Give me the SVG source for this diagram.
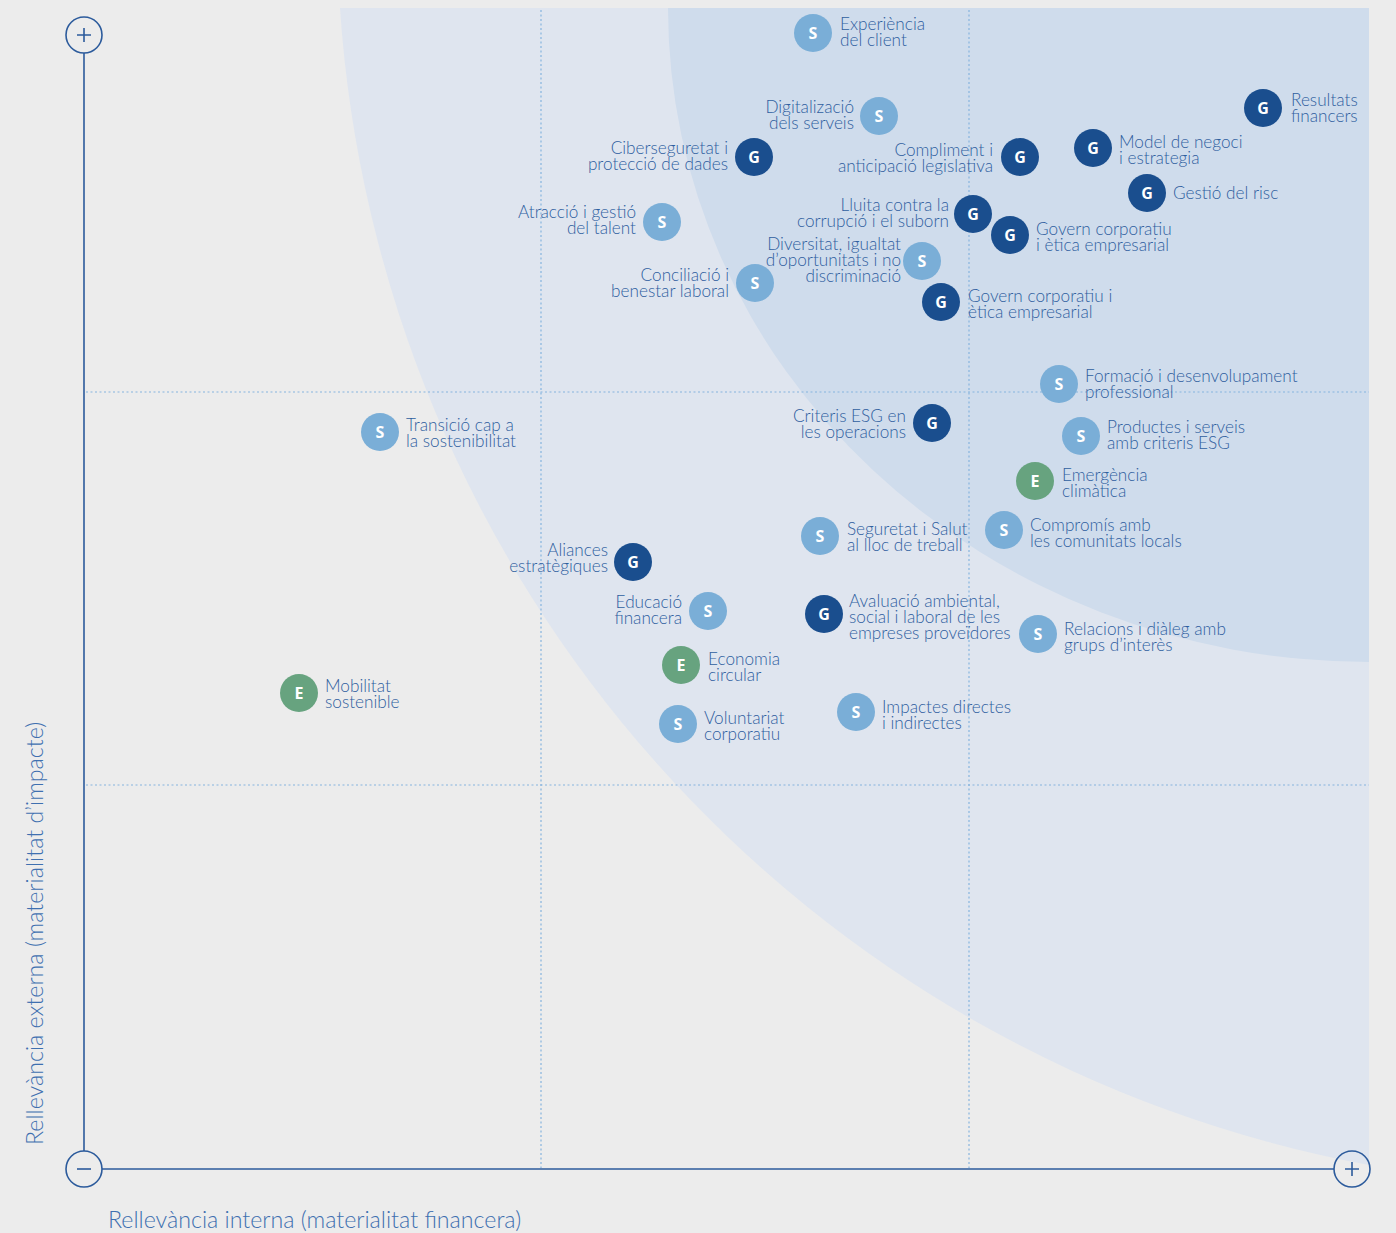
<svg xmlns="http://www.w3.org/2000/svg" width="1396" height="1233" viewBox="0 0 1396 1233">
<style>
.lbl{font-family:Lato,"Open Sans","Liberation Sans",sans-serif;font-size:17.2px;font-weight:300;fill:#2f5f9f;}
.ltr{font-family:"Open Sans","Liberation Sans",sans-serif;font-size:16px;font-weight:700;fill:#ffffff;text-anchor:middle;}
.G{fill:#1a4e8e;}
.S{fill:#7aaed7;}
.E{fill:#67a37f;}
.grid{stroke:#86b4de;stroke-width:1.2;stroke-dasharray:2 2.5;fill:none;}
.axis{stroke:#2c5b9c;stroke-width:1.6;fill:none;}
.axl{font-family:Lato,"Open Sans","Liberation Sans",sans-serif;font-size:23.2px;font-weight:300;fill:#3f70b0;}
.e{text-anchor:end;}
</style>
<rect width="1396" height="1233" fill="#ececec"/>
<g id="zones">
<path d="M340,8 A1262,1262 0 0 0 1369,1165 L1369,8 Z" fill="#dfe5ef"/>
<path d="M668,8 A701,654 0 0 0 1369,662 L1369,8 Z" fill="#cfdcec"/>
</g>
<g id="grid">
<line class="grid" x1="541" y1="10" x2="541" y2="1168"/>
<line class="grid" x1="969" y1="10" x2="969" y2="1168"/>
<line class="grid" x1="86" y1="392" x2="1369" y2="392"/>
<line class="grid" x1="86" y1="785" x2="1369" y2="785"/>
</g>
<g id="axes">
<line class="axis" x1="84" y1="53" x2="84" y2="1151"/>
<line class="axis" x1="102" y1="1169" x2="1334" y2="1169"/>
<circle class="axis" cx="84" cy="35" r="18"/>
<path class="axis" d="M77,35 H91 M84,28 V42"/>
<circle class="axis" cx="84" cy="1169" r="18"/>
<path class="axis" d="M77,1169 H91"/>
<circle class="axis" cx="1352" cy="1169" r="18"/>
<path class="axis" d="M1345,1169 H1359 M1352,1162 V1176"/>
<text class="axl" x="108" y="1228">Rellevància interna (materialitat financera)</text>
<text class="axl" transform="translate(43,1145) rotate(-90)">Rellevància externa (materialitat d’impacte)</text>
</g>
<g id="connectors"></g>
<g id="n-exp"><circle class="S" cx="813" cy="33" r="19"/><text class="ltr" x="813" y="38.5">S</text><text class="lbl" x="840" y="30">Experiència<tspan x="840" y="46">del client</tspan></text></g>
<g id="n-dig"><circle class="S" cx="879" cy="116" r="19"/><text class="ltr" x="879" y="121.5">S</text><text class="lbl e" x="854" y="113">Digitalizació<tspan x="854" y="129">dels serveis</tspan></text></g>
<g id="n-cib"><circle class="G" cx="754" cy="157" r="19"/><text class="ltr" x="754" y="162.5">G</text><text class="lbl e" x="728" y="154">Ciberseguretat i<tspan x="728" y="170">protecció de dades</tspan></text></g>
<g id="n-comp"><circle class="G" cx="1020" cy="157" r="19"/><text class="ltr" x="1020" y="162.5">G</text><text class="lbl e" x="993" y="156">Compliment i<tspan x="993" y="172">anticipació legislativa</tspan></text></g>
<g id="n-res"><circle class="G" cx="1263" cy="108" r="19"/><text class="ltr" x="1263" y="113.5">G</text><text class="lbl" x="1291" y="106">Resultats<tspan x="1291" y="122">financers</tspan></text></g>
<g id="n-model"><circle class="G" cx="1093" cy="148" r="19"/><text class="ltr" x="1093" y="153.5">G</text><text class="lbl" x="1119" y="148">Model de negoci<tspan x="1119" y="164">i estrategia</tspan></text></g>
<g id="n-risc"><circle class="G" cx="1147" cy="193" r="19"/><text class="ltr" x="1147" y="198.5">G</text><text class="lbl" x="1173" y="199">Gestió del risc</text></g>
<g id="n-atr"><circle class="S" cx="662" cy="222" r="19"/><text class="ltr" x="662" y="227.5">S</text><text class="lbl e" x="636" y="218">Atracció i gestió<tspan x="636" y="234">del talent</tspan></text></g>
<g id="n-llu"><circle class="G" cx="973" cy="214" r="19"/><text class="ltr" x="973" y="219.5">G</text><text class="lbl e" x="949" y="211">Lluita contra la<tspan x="949" y="227">corrupció i el suborn</tspan></text></g>
<g id="n-gov1"><circle class="G" cx="1010" cy="235" r="19"/><text class="ltr" x="1010" y="240.5">G</text><text class="lbl" x="1036" y="235">Govern corporatiu<tspan x="1036" y="251">i ètica empresarial</tspan></text></g>
<g id="n-div"><circle class="S" cx="922" cy="261" r="19"/><text class="ltr" x="922" y="266.5">S</text><text class="lbl e" x="901" y="250">Diversitat, igualtat<tspan x="901" y="266">d’oportunitats i no</tspan><tspan x="901" y="282">discriminació</tspan></text></g>
<g id="n-conc"><circle class="S" cx="755" cy="283" r="19"/><text class="ltr" x="755" y="288.5">S</text><text class="lbl e" x="729" y="281">Conciliació i<tspan x="729" y="297">benestar laboral</tspan></text></g>
<g id="n-gov2"><circle class="G" cx="941" cy="302" r="19"/><text class="ltr" x="941" y="307.5">G</text><text class="lbl" x="968" y="302">Govern corporatiu i<tspan x="968" y="318">ètica empresarial</tspan></text></g>
<g id="n-form"><circle class="S" cx="1059" cy="384" r="19"/><text class="ltr" x="1059" y="389.5">S</text><text class="lbl" x="1085" y="382">Formació i desenvolupament<tspan x="1085" y="398">professional</tspan></text></g>
<g id="n-trans"><circle class="S" cx="380" cy="432" r="19"/><text class="ltr" x="380" y="437.5">S</text><text class="lbl" x="406" y="431">Transició cap a<tspan x="406" y="447">la sostenibilitat</tspan></text></g>
<g id="n-crit"><circle class="G" cx="932" cy="423" r="19"/><text class="ltr" x="932" y="428.5">G</text><text class="lbl e" x="906" y="422">Criteris ESG en<tspan x="906" y="438">les operacions</tspan></text></g>
<g id="n-prod"><circle class="S" cx="1081" cy="436" r="19"/><text class="ltr" x="1081" y="441.5">S</text><text class="lbl" x="1107" y="433">Productes i serveis<tspan x="1107" y="449">amb criteris ESG</tspan></text></g>
<g id="n-emer"><circle class="E" cx="1035" cy="481" r="19"/><text class="ltr" x="1035" y="486.5">E</text><text class="lbl" x="1062" y="481">Emergència<tspan x="1062" y="497">climàtica</tspan></text></g>
<g id="n-seg"><circle class="S" cx="820" cy="536" r="19"/><text class="ltr" x="820" y="541.5">S</text><text class="lbl" x="847" y="535">Seguretat i Salut<tspan x="847" y="551">al lloc de treball</tspan></text></g>
<g id="n-comu"><circle class="S" cx="1004" cy="530" r="19"/><text class="ltr" x="1004" y="535.5">S</text><text class="lbl" x="1030" y="531">Compromís amb<tspan x="1030" y="547">les comunitats locals</tspan></text></g>
<g id="n-ali"><circle class="G" cx="633" cy="562" r="19"/><text class="ltr" x="633" y="567.5">G</text><text class="lbl e" x="608" y="556">Aliances<tspan x="608" y="572">estratègiques</tspan></text></g>
<g id="n-edu"><circle class="S" cx="708" cy="611" r="19"/><text class="ltr" x="708" y="616.5">S</text><text class="lbl e" x="682" y="608">Educació<tspan x="682" y="624">financera</tspan></text></g>
<g id="n-aval"><circle class="G" cx="824" cy="614" r="19"/><text class="ltr" x="824" y="619.5">G</text><text class="lbl" x="849" y="607">Avaluació ambiental,<tspan x="849" y="623">social i laboral de les</tspan><tspan x="849" y="639">empreses proveïdores</tspan></text></g>
<g id="n-rel"><circle class="S" cx="1038" cy="634" r="19"/><text class="ltr" x="1038" y="639.5">S</text><text class="lbl" x="1064" y="635">Relacions i diàleg amb<tspan x="1064" y="651">grups d’interès</tspan></text></g>
<g id="n-eco"><circle class="E" cx="681" cy="665" r="19"/><text class="ltr" x="681" y="670.5">E</text><text class="lbl" x="708" y="665">Economia<tspan x="708" y="681">circular</tspan></text></g>
<g id="n-mob"><circle class="E" cx="299" cy="693" r="19"/><text class="ltr" x="299" y="698.5">E</text><text class="lbl" x="325" y="692">Mobilitat<tspan x="325" y="708">sostenible</tspan></text></g>
<g id="n-vol"><circle class="S" cx="678" cy="724" r="19"/><text class="ltr" x="678" y="729.5">S</text><text class="lbl" x="704" y="724">Voluntariat<tspan x="704" y="740">corporatiu</tspan></text></g>
<g id="n-imp"><circle class="S" cx="856" cy="712" r="19"/><text class="ltr" x="856" y="717.5">S</text><text class="lbl" x="882" y="713">Impactes directes<tspan x="882" y="729">i indirectes</tspan></text></g>
</svg>
